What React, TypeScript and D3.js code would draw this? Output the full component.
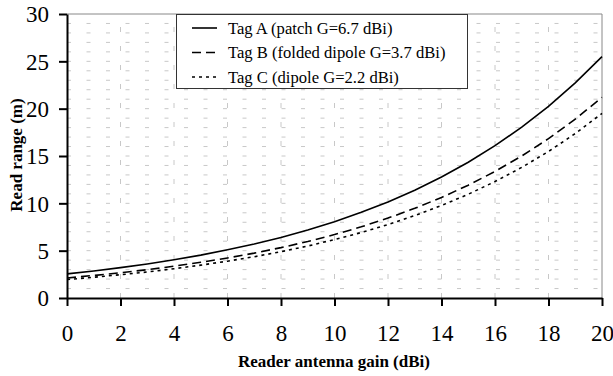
import React, { useEffect, useRef } from "react";
import * as d3 from "d3";

// reader antenna gain (dBi)
const gains = [0, 1, 2, 3, 4, 5, 6, 7, 8, 9, 10, 11, 12, 13, 14, 15, 16, 17, 18, 19, 20];
// read range (m)
const tagA = [2.55, 2.86, 3.21, 3.6, 4.04, 4.53, 5.09, 5.71, 6.4, 7.19, 8.06, 9.05, 10.15, 11.39, 12.78, 14.34, 16.09, 18.05, 20.25, 22.73, 25.5];
const tagB = [2.12, 2.38, 2.67, 2.99, 3.36, 3.77, 4.23, 4.74, 5.32, 5.97, 6.7, 7.52, 8.44, 9.47, 10.62, 11.92, 13.37, 15.0, 16.83, 18.89, 21.2];
const tagC = [1.95, 2.19, 2.46, 2.75, 3.09, 3.47, 3.89, 4.36, 4.89, 5.49, 6.17, 6.92, 7.76, 8.71, 9.77, 10.96, 12.3, 13.8, 15.48, 17.37, 19.5];
const seriesNames = [
  "Tag A (patch G=6.7 dBi)",
  "Tag B (folded dipole G=3.7 dBi)",
  "Tag C (dipole G=2.2 dBi)",
];
const xTicks = [0, 2, 4, 6, 8, 10, 12, 14, 16, 18, 20];
const yTicks = [0, 5, 10, 15, 20, 25, 30];

const width = 613;
const height = 376;
const margin = { top: 14, right: 11, bottom: 78, left: 67 };
const font = "Liberation Serif, DejaVu Serif, serif";

export default function App() {
  const ref = useRef<SVGSVGElement>(null);

  useEffect(() => {
    const svg = d3.select(ref.current);
    svg.selectAll("*").remove();

    const x = d3.scaleLinear().domain([0, 20]).range([margin.left, width - margin.right]);
    const y = d3.scaleLinear().domain([0, 30]).range([height - margin.bottom, margin.top]);

    // grid
    const grid = svg.append("g");
    grid
      .selectAll("line.h")
      .data(d3.range(1, 30))
      .join("line")
      .attr("x1", x(0))
      .attr("x2", x(20))
      .attr("y1", (d) => y(d))
      .attr("y2", (d) => y(d))
      .attr("stroke", "#c8c8c8")
      .attr("stroke-dasharray", "4,15.5");
    grid
      .selectAll("line.v")
      .data(d3.range(2, 20, 2))
      .join("line")
      .attr("x1", (d) => x(d))
      .attr("x2", (d) => x(d))
      .attr("y1", y(0))
      .attr("y2", y(30))
      .attr("stroke", "#c8c8c8")
      .attr("stroke-dasharray", "5,14");

    // top / right frame
    svg
      .append("path")
      .attr("d", `M${x(0)},${y(30)}H${x(20)}V${y(0)}`)
      .attr("fill", "none")
      .attr("stroke", "#888")
      .attr("stroke-width", 1);

    // axes
    const xAxis = svg
      .append("g")
      .attr("transform", `translate(0,${y(0)})`)
      .call(d3.axisBottom(x).tickValues(xTicks).tickSize(8).tickPadding(19).tickSizeOuter(0));
    const yAxis = svg
      .append("g")
      .attr("transform", `translate(${x(0)},0)`)
      .call(d3.axisLeft(y).tickValues(yTicks).tickSize(8).tickPadding(10).tickSizeOuter(0));
    [xAxis, yAxis].forEach((a) => {
      a.attr("font-family", font).attr("font-size", 23);
      a.select(".domain").attr("stroke", "#000").attr("stroke-width", 2);
      a.selectAll(".tick line").attr("stroke", "#000").attr("stroke-width", 2);
      a.selectAll(".tick text").attr("fill", "#000");
    });
    yAxis.selectAll(".tick text").attr("dy", "0.34em");

    // curves
    const line = d3
      .line<number>()
      .x((_, i) => x(gains[i]))
      .y((d) => y(d));
    const dashes = [null, "9,5", "3,4"];
    [tagA, tagB, tagC].forEach((s, i) => {
      svg
        .append("path")
        .datum(s)
        .attr("d", line)
        .attr("fill", "none")
        .attr("stroke", "#000")
        .attr("stroke-width", 1.6)
        .attr("stroke-dasharray", dashes[i]);
    });

    // legend
    const lg = svg.append("g").attr("font-family", font).attr("font-size", 16.6);
    lg.append("rect")
      .attr("x", 176.5)
      .attr("y", 14.5)
      .attr("width", 291)
      .attr("height", 74)
      .attr("fill", "#fff")
      .attr("stroke", "#333")
      .attr("stroke-width", 1);
    seriesNames.forEach((name, i) => {
      const yy = 28 + i * 24.5;
      lg.append("line")
        .attr("x1", 192)
        .attr("x2", 217)
        .attr("y1", yy)
        .attr("y2", yy)
        .attr("stroke", "#000")
        .attr("stroke-width", 1.6)
        .attr("stroke-dasharray", dashes[i]);
      lg.append("text")
        .attr("x", 228)
        .attr("y", yy)
        .attr("dy", "0.35em")
        .text(name);
    });

    // axis titles
    const titles = svg
      .append("g")
      .attr("font-family", font)
      .attr("font-size", 17)
      .attr("font-weight", "bold")
      .attr("text-anchor", "middle");
    titles
      .append("text")
      .attr("x", 334)
      .attr("y", 367)
      .text("Reader antenna gain (dBi)");
    titles
      .append("text")
      .attr("transform", `translate(22,155) rotate(-90)`)
      .text("Read range (m)");
  }, []);

  return (
    <svg
      ref={ref}
      width={width}
      height={height}
      style={{ position: "absolute", left: 0, top: 0, background: "#fff" }}
    />
  );
}
